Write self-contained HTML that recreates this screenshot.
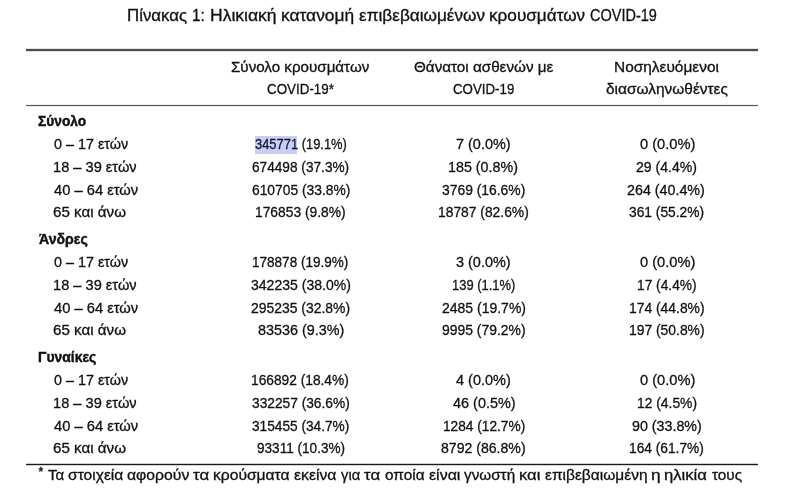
<!DOCTYPE html>
<html><head><meta charset="utf-8"><title>Πίνακας 1</title>
<style>
html,body{margin:0;padding:0;background:#fff;}
body{width:800px;height:494px;position:relative;overflow:hidden;will-change:transform;font-family:"Liberation Sans",sans-serif;color:#111;}
.t{position:absolute;white-space:pre;font-size:15px;line-height:1;transform-origin:0 0;-webkit-text-stroke:0.3px #111;}
.b{font-weight:bold;-webkit-text-stroke:0.45px #111;}
.hl{color:#161a3a;}
.rule{position:absolute;left:26px;width:732px;}
#r1{top:48px;height:4px;background:linear-gradient(#e2e2e2 0 1px,#4c4c4c 1px 3px,#e2e2e2 3px 4px);}
#r2{top:104px;height:3px;background:linear-gradient(#ececec 0 1px,#555 1px 2px,#ececec 2px 3px);}
#r3{top:463px;height:3px;background:linear-gradient(#cfcfcf 0 1px,#1a1a1a 1px 2px,#d4d4d4 2px 3px);}
#hlbox{position:absolute;left:254.7px;top:136px;width:41.9px;height:17.7px;background:#c9cdf9;}
#ast{position:absolute;left:38.4px;top:465.6px;font-size:12px;line-height:1;-webkit-text-stroke:0.4px #111;}
</style></head><body>
<div class="rule" id="r1"></div>
<div class="rule" id="r2"></div>
<div class="rule" id="r3"></div>
<div id="hlbox"></div>
<div class="t " style="left:127.37px;top:8.00px;font-size:16px;transform:scaleX(1.0519);">Πίνακας</div>
<div class="t " style="left:191.68px;top:8.00px;font-size:16px;transform:scaleX(0.9507);">1:</div>
<div class="t " style="left:209.52px;top:8.00px;font-size:16px;transform:scaleX(1.0944);">Ηλικιακή</div>
<div class="t " style="left:281.02px;top:8.00px;font-size:16px;transform:scaleX(1.0848);">κατανομή</div>
<div class="t " style="left:358.93px;top:8.00px;font-size:16px;transform:scaleX(1.0741);">επιβεβαιωμένων</div>
<div class="t " style="left:488.73px;top:8.00px;font-size:16px;transform:scaleX(1.0722);">κρουσμάτων</div>
<div class="t " style="left:589.62px;top:8.00px;font-size:16px;transform:scaleX(0.9061);">COVID-19</div>
<div class="t " style="left:231.12px;top:58.80px;transform:scaleX(1.0103);">Σύνολο κρουσμάτων</div>
<div class="t " style="left:266.61px;top:81.30px;transform:scaleX(0.8925);">COVID-19*</div>
<div class="t " style="left:414.26px;top:58.80px;transform:scaleX(1.0151);">Θάνατοι ασθενών με</div>
<div class="t " style="left:452.92px;top:81.30px;transform:scaleX(0.8866);">COVID-19</div>
<div class="t " style="left:613.66px;top:58.80px;transform:scaleX(1.0285);">Νοσηλευόμενοι</div>
<div class="t " style="left:606.32px;top:81.30px;transform:scaleX(1.0294);">διασωληνωθέντες</div>
<div class="t b" style="left:37.89px;top:113.00px;transform:scaleX(0.9167);">Σύνολο</div>
<div class="t " style="left:53.50px;top:136.40px;transform:scaleX(0.9566);">0 – 17 ετών</div>
<div class="t " style="left:255.06px;top:136.40px;transform:scaleX(0.8605);"><span class="hl">345771</span> (19.1%)</div>
<div class="t " style="left:456.06px;top:136.40px;transform:scaleX(0.9632);">7 (0.0%)</div>
<div class="t " style="left:639.58px;top:136.40px;transform:scaleX(0.9771);">0 (0.0%)</div>
<div class="t " style="left:52.91px;top:159.00px;transform:scaleX(0.9746);">18 – 39 ετών</div>
<div class="t " style="left:251.90px;top:159.00px;transform:scaleX(0.9102);">674498 (37.3%)</div>
<div class="t " style="left:448.14px;top:159.00px;transform:scaleX(0.9526);">185 (0.8%)</div>
<div class="t " style="left:636.30px;top:159.00px;transform:scaleX(0.9377);">29 (4.4%)</div>
<div class="t " style="left:53.72px;top:181.60px;transform:scaleX(0.9804);">40 – 64 ετών</div>
<div class="t " style="left:251.50px;top:181.60px;transform:scaleX(0.9207);">610705 (33.8%)</div>
<div class="t " style="left:442.41px;top:181.60px;transform:scaleX(0.9247);">3769 (16.6%)</div>
<div class="t " style="left:627.49px;top:181.60px;transform:scaleX(0.9519);">264 (40.4%)</div>
<div class="t " style="left:53.33px;top:204.20px;transform:scaleX(1.0103);">65 και άνω</div>
<div class="t " style="left:254.88px;top:204.20px;transform:scaleX(0.9203);">176853 (9.8%)</div>
<div class="t " style="left:438.28px;top:204.20px;transform:scaleX(0.9224);">18787 (82.6%)</div>
<div class="t " style="left:628.92px;top:204.20px;transform:scaleX(0.9182);">361 (55.2%)</div>
<div class="t b" style="left:38.78px;top:231.00px;transform:scaleX(0.9404);">Άνδρες</div>
<div class="t " style="left:53.50px;top:254.40px;transform:scaleX(0.9566);">0 – 17 ετών</div>
<div class="t " style="left:252.40px;top:254.40px;transform:scaleX(0.9027);">178878 (19.9%)</div>
<div class="t " style="left:456.09px;top:254.40px;transform:scaleX(0.9627);">3 (0.0%)</div>
<div class="t " style="left:639.58px;top:254.40px;transform:scaleX(0.9771);">0 (0.0%)</div>
<div class="t " style="left:52.91px;top:277.00px;transform:scaleX(0.9746);">18 – 39 ετών</div>
<div class="t " style="left:250.51px;top:277.00px;transform:scaleX(0.9357);">342235 (38.0%)</div>
<div class="t " style="left:451.65px;top:277.00px;transform:scaleX(0.8616);">139 (1.1%)</div>
<div class="t " style="left:636.98px;top:277.00px;transform:scaleX(0.9161);">17 (4.4%)</div>
<div class="t " style="left:53.72px;top:299.60px;transform:scaleX(0.9804);">40 – 64 ετών</div>
<div class="t " style="left:250.91px;top:299.60px;transform:scaleX(0.9282);">295235 (32.8%)</div>
<div class="t " style="left:442.01px;top:299.60px;transform:scaleX(0.9327);">2485 (19.7%)</div>
<div class="t " style="left:628.77px;top:299.60px;transform:scaleX(0.9249);">174 (44.8%)</div>
<div class="t " style="left:53.33px;top:322.20px;transform:scaleX(1.0103);">65 και άνω</div>
<div class="t " style="left:258.12px;top:322.20px;transform:scaleX(0.9584);">83536 (9.3%)</div>
<div class="t " style="left:442.41px;top:322.20px;transform:scaleX(0.9281);">9995 (79.2%)</div>
<div class="t " style="left:628.77px;top:322.20px;transform:scaleX(0.9249);">197 (50.8%)</div>
<div class="t b" style="left:38.15px;top:349.00px;transform:scaleX(0.9289);">Γυναίκες</div>
<div class="t " style="left:53.50px;top:372.40px;transform:scaleX(0.9566);">0 – 17 ετών</div>
<div class="t " style="left:251.48px;top:372.40px;transform:scaleX(0.9161);">166892 (18.4%)</div>
<div class="t " style="left:456.13px;top:372.40px;transform:scaleX(0.9656);">4 (0.0%)</div>
<div class="t " style="left:639.58px;top:372.40px;transform:scaleX(0.9771);">0 (0.0%)</div>
<div class="t " style="left:52.91px;top:395.00px;transform:scaleX(0.9746);">18 – 39 ετών</div>
<div class="t " style="left:251.52px;top:395.00px;transform:scaleX(0.9157);">332257 (36.6%)</div>
<div class="t " style="left:452.73px;top:395.00px;transform:scaleX(0.9624);">46 (0.5%)</div>
<div class="t " style="left:636.97px;top:395.00px;transform:scaleX(0.9225);">12 (4.5%)</div>
<div class="t " style="left:53.72px;top:417.60px;transform:scaleX(0.9804);">40 – 64 ετών</div>
<div class="t " style="left:251.92px;top:417.60px;transform:scaleX(0.9119);">315455 (34.7%)</div>
<div class="t " style="left:442.69px;top:417.60px;transform:scaleX(0.9126);">1284 (12.7%)</div>
<div class="t " style="left:631.69px;top:417.60px;transform:scaleX(0.9505);">90 (33.8%)</div>
<div class="t " style="left:53.33px;top:440.20px;transform:scaleX(1.0103);">65 και άνω</div>
<div class="t " style="left:256.73px;top:440.20px;transform:scaleX(0.9057);">93311 (10.3%)</div>
<div class="t " style="left:441.43px;top:440.20px;transform:scaleX(0.9392);">8792 (86.8%)</div>
<div class="t " style="left:629.48px;top:440.20px;transform:scaleX(0.9161);">164 (61.7%)</div>
<div class="t " style="left:48.11px;top:467.10px;transform:scaleX(1.0035);">Τα</div>
<div class="t " style="left:67.81px;top:467.10px;transform:scaleX(1.0400);">στοιχεία</div>
<div class="t " style="left:127.38px;top:467.10px;transform:scaleX(1.0499);">αφορούν</div>
<div class="t " style="left:193.36px;top:467.10px;transform:scaleX(1.1181);">τα</div>
<div class="t " style="left:213.21px;top:467.10px;transform:scaleX(1.0416);">κρούσματα</div>
<div class="t " style="left:293.76px;top:467.10px;transform:scaleX(1.0522);">εκείνα</div>
<div class="t " style="left:340.94px;top:467.10px;transform:scaleX(0.9839);">για</div>
<div class="t " style="left:364.36px;top:467.10px;transform:scaleX(1.1181);">τα</div>
<div class="t " style="left:384.92px;top:467.10px;transform:scaleX(1.0256);">οποία</div>
<div class="t " style="left:428.75px;top:467.10px;transform:scaleX(1.0634);">είναι</div>
<div class="t " style="left:464.08px;top:467.10px;transform:scaleX(1.0176);">γνωστή</div>
<div class="t " style="left:519.33px;top:467.10px;transform:scaleX(1.1080);">και</div>
<div class="t " style="left:544.97px;top:467.10px;transform:scaleX(1.0333);">επιβεβαιωμένη</div>
<div class="t " style="left:651.42px;top:467.10px;transform:scaleX(1.1519);">η</div>
<div class="t " style="left:664.32px;top:467.10px;transform:scaleX(1.1076);">ηλικία</div>
<div class="t " style="left:711.54px;top:467.10px;transform:scaleX(1.0222);">τους</div>
<div id="ast">*</div>
</body></html>
